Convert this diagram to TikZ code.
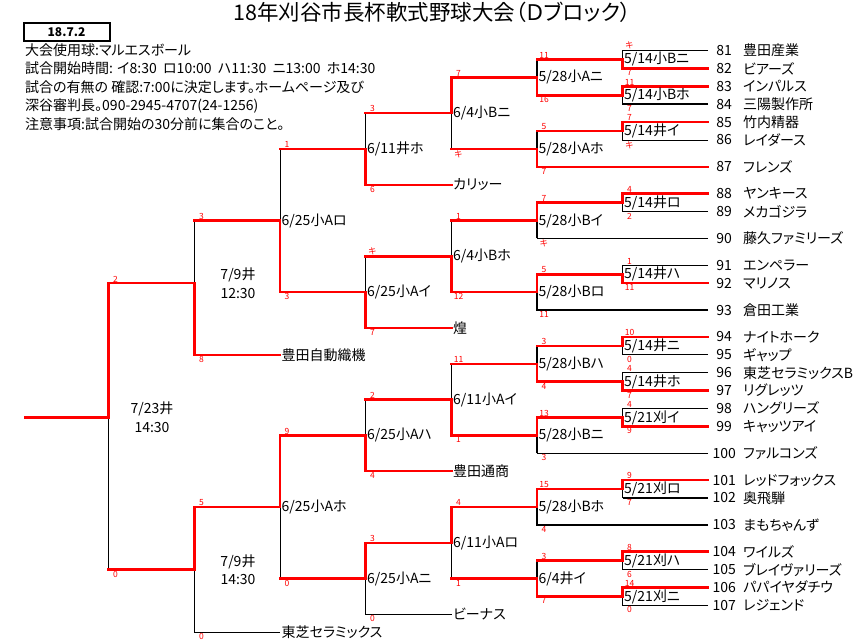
\documentclass[tikz,border=0pt]{standalone}
\usepackage{fontspec}
\setmainfont{Noto Sans CJK JP}[RawFeature=+palt]
\newcommand{\rg}[1]{50.5+17.9*#1} % rang -> ordonnee (en px)
\newcommand{\partie}[5]{% nom, abscisse, rang haut, rang milieu, rang bas
  \coordinate (#1h) at (#2,{\rg{#3}});%
  \coordinate (#1m) at (#2,{\rg{#4}});%
  \coordinate (#1b) at (#2,{\rg{#5}});}
\begin{document}
\begin{tikzpicture}[x=1pt,y=-1pt, % 1 unite = 1 pixel, y vers le bas
  gagne/.style={color=red,line width=2.5pt,line cap=rect},
  perd/.style={color=black,line width=0.9pt},
  perdgras/.style={color=black,line width=1.9pt},
  lib/.style={anchor=west,inner sep=1.5pt,font=\fontsize{14}{16}\selectfont},
  num/.style={anchor=west,inner sep=0pt,minimum width=32pt,font=\fontsize{14}{16}\selectfont},
  sh/.style={color=red,anchor=south,inner sep=0pt,xshift=7pt,yshift=1pt,font=\fontsize{8.5}{8.5}\selectfont},
  sb/.style={color=red,anchor=north,inner sep=0pt,xshift=7pt,yshift=-1.2pt,font=\fontsize{8.5}{8.5}\selectfont},
  tour/.style={align=center,font=\fontsize{14}{18.7}\selectfont}]
\useasboundingbox (0,0) rectangle (865,642);
% titre et en-tete
\node[font=\fontsize{21.5}{23}\selectfont] (titre) at (432,12) {18年刈谷市長杯軟式野球大会（Ｄブロック）};
\node[draw,line width=2pt,minimum width=86pt,minimum height=18pt,inner sep=0pt,font=\fontsize{12}{12}\selectfont\bfseries] (date) at (66.5,32.5) {18.7.2};
\node[lib] (l1) at (23.5,50) {大会使用球:マルエスボール};
\node[lib] (l2) at (23.5,68.5) {試合開始時間: イ8:30\ \ ロ10:00\ \ ハ11:30\ \ ニ13:00\ \ ホ14:30};
\node[lib] (l3) at (23.5,87) {試合の有無の 確認:7:00に決定します。ホームページ及び};
\node[lib] (l4) at (23.5,105.5) {深谷審判長。090-2945-4707(24-1256)};
\node[lib] (l5) at (23.5,124) {注意事項:試合開始の30分前に集合のこと。};
% les equipes
\node[num] (n81) at (708,{\rg{0}}) {81}; \node[lib] (eq81) at (741.5,{\rg{0}}) {豊田産業};
\node[num] (n82) at (708,{\rg{1}}) {82}; \node[lib] (eq82) at (741.5,{\rg{1}}) {ビアーズ};
\node[num] (n83) at (708,{\rg{2}}) {83}; \node[lib] (eq83) at (741.5,{\rg{2}}) {インパルス};
\node[num] (n84) at (708,{\rg{3}}) {84}; \node[lib] (eq84) at (741.5,{\rg{3}}) {三陽製作所};
\node[num] (n85) at (708,{\rg{4}}) {85}; \node[lib] (eq85) at (741.5,{\rg{4}}) {竹内精器};
\node[num] (n86) at (708,{\rg{5}}) {86}; \node[lib] (eq86) at (741.5,{\rg{5}}) {レイダース};
\node[num] (n87) at (708,{\rg{6.5}}) {87}; \node[lib] (eq87) at (741.5,{\rg{6.5}}) {フレンズ};
\node[num] (n88) at (708,{\rg{8}}) {88}; \node[lib] (eq88) at (741.5,{\rg{8}}) {ヤンキース};
\node[num] (n89) at (708,{\rg{9}}) {89}; \node[lib] (eq89) at (741.5,{\rg{9}}) {メカゴジラ};
\node[num] (n90) at (708,{\rg{10.5}}) {90}; \node[lib] (eq90) at (741.5,{\rg{10.5}}) {藤久ファミリーズ};
\node[num] (n91) at (708,{\rg{12}}) {91}; \node[lib] (eq91) at (741.5,{\rg{12}}) {エンペラー};
\node[num] (n92) at (708,{\rg{13}}) {92}; \node[lib] (eq92) at (741.5,{\rg{13}}) {マリノス};
\node[num] (n93) at (708,{\rg{14.5}}) {93}; \node[lib] (eq93) at (741.5,{\rg{14.5}}) {倉田工業};
\node[num] (n94) at (708,{\rg{16}}) {94}; \node[lib] (eq94) at (741.5,{\rg{16}}) {ナイトホーク};
\node[num] (n95) at (708,{\rg{17}}) {95}; \node[lib] (eq95) at (741.5,{\rg{17}}) {ギャップ};
\node[num] (n96) at (708,{\rg{18}}) {96}; \node[lib] (eq96) at (741.5,{\rg{18}}) {東芝セラミックスB};
\node[num] (n97) at (708,{\rg{19}}) {97}; \node[lib] (eq97) at (741.5,{\rg{19}}) {リグレッツ};
\node[num] (n98) at (708,{\rg{20}}) {98}; \node[lib] (eq98) at (741.5,{\rg{20}}) {ハングリーズ};
\node[num] (n99) at (708,{\rg{21}}) {99}; \node[lib] (eq99) at (741.5,{\rg{21}}) {キャッツアイ};
\node[num] (n100) at (708,{\rg{22.5}}) {100}; \node[lib] (eq100) at (741.5,{\rg{22.5}}) {ファルコンズ};
\node[num] (n101) at (708,{\rg{24}}) {101}; \node[lib] (eq101) at (741.5,{\rg{24}}) {レッドフォックス};
\node[num] (n102) at (708,{\rg{25}}) {102}; \node[lib] (eq102) at (741.5,{\rg{25}}) {奥飛騨};
\node[num] (n103) at (708,{\rg{26.5}}) {103}; \node[lib] (eq103) at (741.5,{\rg{26.5}}) {まもちゃんず};
\node[num] (n104) at (708,{\rg{28}}) {104}; \node[lib] (eq104) at (741.5,{\rg{28}}) {ワイルズ};
\node[num] (n105) at (708,{\rg{29}}) {105}; \node[lib] (eq105) at (741.5,{\rg{29}}) {ブレイヴァリーズ};
\node[num] (n106) at (708,{\rg{30}}) {106}; \node[lib] (eq106) at (741.5,{\rg{30}}) {パパイヤダチウ};
\node[num] (n107) at (708,{\rg{31}}) {107}; \node[lib] (eq107) at (741.5,{\rg{31}}) {レジェンド};
% equipes qualifiees d'office
\node[lib] (kari) at (451.5,{\rg{7.5}}) {カリッー};
\node[lib] (kira) at (451.5,{\rg{15.5}}) {煌};
\node[lib] (tsus) at (451.5,{\rg{23.5}}) {豊田通商};
\node[lib] (bina) at (451.5,{\rg{31.5}}) {ビーナス};
\node[lib] (jido) at (280,{\rg{17}}) {豊田自動織機};
\node[lib] (tosh) at (280,{\rg{32.5}}) {東芝セラミックス};
% les parties : haut, milieu, bas
\partie{g1}{622.5}{0}{0.5}{1}   \partie{g2}{622.5}{2}{2.5}{3}
\partie{g3}{622.5}{4}{4.5}{5}   \partie{g4}{622.5}{8}{8.5}{9}
\partie{g5}{622.5}{12}{12.5}{13} \partie{g6}{622.5}{16}{16.5}{17}
\partie{g7}{622.5}{18}{18.5}{19} \partie{g8}{622.5}{20}{20.5}{21}
\partie{g9}{622.5}{24}{24.5}{25} \partie{g10}{622.5}{28}{28.5}{29}
\partie{g11}{622.5}{30}{30.5}{31}
\partie{f1}{537}{0.5}{1.5}{2.5}   \partie{f2}{537}{4.5}{5.5}{6.5}
\partie{f3}{537}{8.5}{9.5}{10.5}  \partie{f4}{537}{12.5}{13.5}{14.5}
\partie{f5}{537}{16.5}{17.5}{18.5} \partie{f6}{537}{20.5}{21.5}{22.5}
\partie{f7}{537}{24.5}{25.5}{26.5} \partie{f8}{537}{28.5}{29.5}{30.5}
\partie{e1}{451.5}{1.5}{3.5}{5.5}   \partie{e2}{451.5}{9.5}{11.5}{13.5}
\partie{e3}{451.5}{17.5}{19.5}{21.5} \partie{e4}{451.5}{25.5}{27.5}{29.5}
\partie{d1}{365.5}{3.5}{5.5}{7.5}   \partie{d2}{365.5}{11.5}{13.5}{15.5}
\partie{d3}{365.5}{19.5}{21.5}{23.5} \partie{d4}{365.5}{27.5}{29.5}{31.5}
\partie{c1}{280}{5.5}{9.5}{13.5}  \partie{c2}{280}{21.5}{25.5}{29.5}
\partie{b1}{194.5}{9.5}{13}{17}   \partie{b2}{194.5}{25.5}{29}{32.5}
\partie{a1}{108.5}{13}{20.5}{29}
\coordinate (champ) at (25,{\rg{20.5}});
% lignes des perdants (noir)
\draw[perd] (n81.west) -- (g1h) -- (g1m);
\draw[perdgras] (n84.west) -- (g2b) -- (g2m);
\draw[perd] (n86.west) -- (g3b) -- (g3m);
\draw[perd] (n89.west) -- (g4b) -- (g4m);
\draw[perd] (n91.west) -- (g5h) -- (g5m);
\draw[perd] (n95.west) -- (g6b) -- (g6m);
\draw[perd] (n96.west) -- (g7h) -- (g7m);
\draw[perd] (n98.west) -- (g8h) -- (g8m);
\draw[perdgras] (n102.west) -- (g9b); \draw[perd] (g9b) -- (g9m);
\draw[perd] (n105.west) -- (g10b) -- (g10m);
\draw[perd] (n107.west) -- (g11b) -- (g11m);
\draw[perdgras] (f1h) -- (f1m);
\draw[perdgras] (f2h) -- (f2m);
\draw[perd] (n90.west) -- (f3b); \draw[perdgras] (f3b) -- (f3m);
\draw[perdgras] (n93.west) -- (f4b) -- (f4m);
\draw[perdgras] (f5h) -- (f5m);
\draw[perd] (n100.west) -- (f6b); \draw[perdgras] (f6b) -- (f6m);
\draw[perdgras] (n103.west) -- (f7b) -- (f7m);
\draw[perdgras] (f8h) -- (f8m);
\draw[perd] (e1b) -- (e1m);
\draw[perd] (e2h) -- (e2m);
\draw[perd] (e3h) -- (e3m);
\draw[perd] (e4b) -- (e4m);
\draw[perd] (d1h) -- (d1m);
\draw[perd] (d2h) -- (d2m);
\draw[perd] (d3h) -- (d3m);
\draw[perd] (bina.west) -- (d4b) -- (d4m);
\draw[perd] (c1h) -- (c1m);
\draw[perd] (c2b) -- (c2m);
\draw[perd] (b1h) -- (b1m);
\draw[perd] (tosh.west) -- (b2b) -- (b2m);
\draw[perd] (a1b) -- (a1m);
% lignes des gagnants (rouge)
\draw[gagne] (n82.west) -- (g1b) -- (g1m) -- (f1h);
\draw[gagne] (n83.west) -- (g2h) -- (g2m) -- (f1b);
\draw[gagne] (n85.west) -- (g3h) -- (g3m) -- (f2h);
\draw[gagne] (n88.west) -- (g4h) -- (g4m) -- (f3h);
\draw[gagne] (n92.west) -- (g5b) -- (g5m) -- (f4h);
\draw[gagne] (n94.west) -- (g6h) -- (g6m) -- (f5h);
\draw[gagne] (n97.west) -- (g7b) -- (g7m) -- (f5b);
\draw[gagne] (n99.west) -- (g8b) -- (g8m) -- (f6h);
\draw[gagne] (n101.west) -- (g9h) -- (g9m) -- (f7h);
\draw[gagne] (n104.west) -- (g10h) -- (g10m) -- (f8h);
\draw[gagne] (n106.west) -- (g11h) -- (g11m) -- (f8b);
\draw[gagne] (f1b) -- (f1m) -- (e1h);
\draw[gagne] (n87.west) -- (f2b) -- (f2m) -- (e1b);
\draw[gagne] (f3h) -- (f3m) -- (e2h);
\draw[gagne] (f4h) -- (f4m) -- (e2b);
\draw[gagne] (f5b) -- (f5m) -- (e3h);
\draw[gagne] (f6h) -- (f6m) -- (e3b);
\draw[gagne] (f7h) -- (f7m) -- (e4h);
\draw[gagne] (f8b) -- (f8m) -- (e4b);
\draw[gagne] (e1h) -- (e1m) -- (d1h);
\draw[gagne] (e2b) -- (e2m) -- (d2h);
\draw[gagne] (e3b) -- (e3m) -- (d3h);
\draw[gagne] (e4h) -- (e4m) -- (d4h);
\draw[gagne] (kari.west) -- (d1b) -- (d1m) -- (c1h);
\draw[gagne] (kira.west) -- (d2b) -- (d2m) -- (c1b);
\draw[gagne] (tsus.west) -- (d3b) -- (d3m) -- (c2h);
\draw[gagne] (d4h) -- (d4m) -- (c2b);
\draw[gagne] (c1b) -- (c1m) -- (b1h);
\draw[gagne] (c2h) -- (c2m) -- (b2h);
\draw[gagne] (jido.west) -- (b1b) -- (b1m) -- (a1h);
\draw[gagne] (b2h) -- (b2m) -- (a1b);
\draw[gagne] (a1h) -- (a1m) -- (champ);
% dates des parties et scores
\node[lib] at (g1m) {5/14小Bニ}; \node[sh] at (g1h) {キ}; \node[sb] at (g1b) {7};
\node[lib] at (g2m) {5/14小Bホ}; \node[sh] at (g2h) {11}; \node[sb] at (g2b) {7};
\node[lib] at (g3m) {5/14井イ}; \node[sh] at (g3h) {7}; \node[sb] at (g3b) {キ};
\node[lib] at (g4m) {5/14井ロ}; \node[sh] at (g4h) {4}; \node[sb] at (g4b) {2};
\node[lib] at (g5m) {5/14井ハ}; \node[sh] at (g5h) {1}; \node[sb] at (g5b) {11};
\node[lib] at (g6m) {5/14井ニ}; \node[sh] at (g6h) {10}; \node[sb] at (g6b) {0};
\node[lib] at (g7m) {5/14井ホ}; \node[sh] at (g7h) {4}; \node[sb] at (g7b) {7};
\node[lib] at (g8m) {5/21刈イ}; \node[sh] at (g8h) {4}; \node[sb] at (g8b) {9};
\node[lib] at (g9m) {5/21刈ロ}; \node[sh] at (g9h) {9}; \node[sb] at (g9b) {7};
\node[lib] at (g10m) {5/21刈ハ}; \node[sh] at (g10h) {8}; \node[sb] at (g10b) {6};
\node[lib] at (g11m) {5/21刈ニ}; \node[sh] at (g11h) {14}; \node[sb] at (g11b) {0};
\node[lib] at (f1m) {5/28小Aニ}; \node[sh] at (f1h) {11}; \node[sb] at (f1b) {16};
\node[lib] at (f2m) {5/28小Aホ}; \node[sh] at (f2h) {5}; \node[sb] at (f2b) {7};
\node[lib] at (f3m) {5/28小Bイ}; \node[sh] at (f3h) {7}; \node[sb] at (f3b) {キ};
\node[lib] at (f4m) {5/28小Bロ}; \node[sh] at (f4h) {5}; \node[sb] at (f4b) {11};
\node[lib] at (f5m) {5/28小Bハ}; \node[sh] at (f5h) {3}; \node[sb] at (f5b) {4};
\node[lib] at (f6m) {5/28小Bニ}; \node[sh] at (f6h) {13}; \node[sb] at (f6b) {3};
\node[lib] at (f7m) {5/28小Bホ}; \node[sh] at (f7h) {15}; \node[sb] at (f7b) {4};
\node[lib] at (f8m) {6/4井イ}; \node[sh] at (f8h) {3}; \node[sb] at (f8b) {7};
\node[lib] at (e1m) {6/4小Bニ}; \node[sh] at (e1h) {7}; \node[sb] at (e1b) {キ};
\node[lib] at (e2m) {6/4小Bホ}; \node[sh] at (e2h) {1}; \node[sb] at (e2b) {12};
\node[lib] at (e3m) {6/11小Aイ}; \node[sh] at (e3h) {11}; \node[sb] at (e3b) {1};
\node[lib] at (e4m) {6/11小Aロ}; \node[sh] at (e4h) {4}; \node[sb] at (e4b) {1};
\node[lib] at (d1m) {6/11井ホ}; \node[sh] at (d1h) {3}; \node[sb] at (d1b) {6};
\node[lib] at (d2m) {6/25小Aイ}; \node[sh] at (d2h) {キ}; \node[sb] at (d2b) {7};
\node[lib] at (d3m) {6/25小Aハ}; \node[sh] at (d3h) {2}; \node[sb] at (d3b) {4};
\node[lib] at (d4m) {6/25小Aニ}; \node[sh] at (d4h) {3}; \node[sb] at (d4b) {0};
\node[lib] at (c1m) {6/25小Aロ}; \node[sh] at (c1h) {1}; \node[sb] at (c1b) {3};
\node[lib] at (c2m) {6/25小Aホ}; \node[sh] at (c2h) {9}; \node[sb] at (c2b) {0};
\node[tour] at ([xshift=43.5pt]b1m) {7/9井\\12:30}; \node[sh] at (b1h) {3}; \node[sb] at (b1b) {8};
\node[tour] at ([xshift=43.5pt]b2m) {7/9井\\14:30}; \node[sh] at (b2h) {5}; \node[sb] at (b2b) {0};
\node[tour] at ([xshift=43.5pt]a1m) {7/23井\\14:30}; \node[sh] at (a1h) {2}; \node[sb] at (a1b) {0};
\end{tikzpicture}
\end{document}
